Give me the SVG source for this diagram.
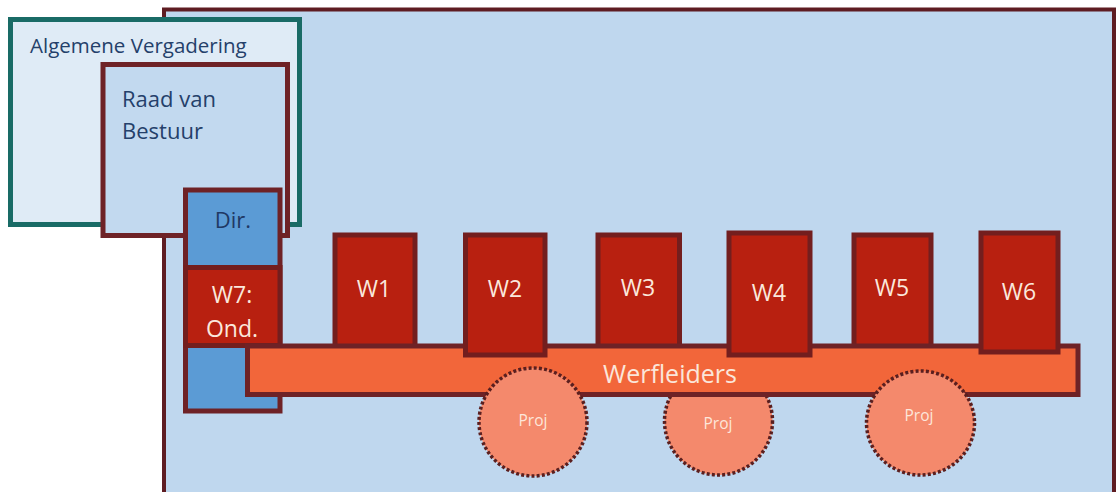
<svg xmlns="http://www.w3.org/2000/svg" width="1117" height="492" viewBox="0 0 1117 492">
<style>
.t{font-family:"Open Sans","Liberation Sans",sans-serif}
.dk{fill:#24406a}
.wb{fill:#b82010;stroke:#731e1e;stroke-width:5}
.wt{fill:#fbe8dc;font-size:23px;text-anchor:middle}
.proj{fill:#f4896c;stroke:#5a1f1f;stroke-width:3.5;stroke-dasharray:3 2.2}
.pt{fill:#fde6da;font-size:15.5px;text-anchor:middle}
</style>
<rect width="1117" height="492" fill="#ffffff"/>
<g id="organisatie">
<rect x="164" y="9.5" width="950" height="500" fill="#bfd7ee" stroke="#5e1c22" stroke-width="4"/>
</g>
<g id="algemene-vergadering">
<rect x="10.5" y="19.5" width="289" height="205" fill="#dfebf6" stroke="#196b66" stroke-width="5"/>
<text class="t dk" x="30" y="53" font-size="20.5">Algemene Vergadering</text>
</g>
<g id="raad-van-bestuur">
<rect x="103" y="64.5" width="184.5" height="171" fill="#c2d9ef" stroke="#6e2226" stroke-width="5"/>
<text class="t dk" x="122" y="107" font-size="22">Raad van</text>
<text class="t dk" x="122" y="139" font-size="22">Bestuur</text>
</g>
<g id="dir">
<rect x="185.5" y="190" width="94.5" height="221" fill="#5b9bd5" stroke="#6e2226" stroke-width="5"/>
<text class="t" x="233" y="228" font-size="22" fill="#1f3864" text-anchor="middle">Dir.</text>
</g>
<g id="w7">
<rect class="wb" x="185.5" y="267.5" width="94.5" height="78"/>
<text class="t wt" x="232" y="303">W7:</text>
<text class="t wt" x="232" y="337" font-size="22">Ond.</text>
</g>
<g id="w1">
<rect class="wb" x="335" y="235" width="80" height="112"/>
<text class="t wt" x="374" y="297">W1</text>
</g>
<g id="w3">
<rect class="wb" x="598" y="235" width="81.5" height="112"/>
<text class="t wt" x="638" y="296">W3</text>
</g>
<g id="w5">
<rect class="wb" x="854" y="235" width="77" height="112"/>
<text class="t wt" x="892" y="296">W5</text>
</g>
<g id="proj2">
<ellipse class="proj" cx="718.5" cy="421" rx="54" ry="54"/>
<text class="t pt" x="718" y="429">Proj</text>
</g>
<g id="werfleiders">
<rect x="247.5" y="346" width="830.5" height="48.5" fill="#f2663a" stroke="#6e2226" stroke-width="5"/>
<text class="t" x="670" y="383" font-size="25" fill="#fbe6da" text-anchor="middle">Werfleiders</text>
</g>
<g id="w2">
<rect class="wb" x="465.5" y="235" width="79.5" height="120"/>
<text class="t wt" x="505" y="297">W2</text>
</g>
<g id="w4">
<rect class="wb" x="729" y="233" width="81" height="122"/>
<text class="t wt" x="769" y="301">W4</text>
</g>
<g id="w6">
<rect class="wb" x="981" y="233" width="77" height="119"/>
<text class="t wt" x="1019" y="300">W6</text>
</g>
<g id="proj1">
<ellipse class="proj" cx="533" cy="422" rx="54" ry="54"/>
<text class="t pt" x="533" y="426">Proj</text>
</g>
<g id="proj3">
<ellipse class="proj" cx="920.5" cy="423" rx="54" ry="52"/>
<text class="t pt" x="919" y="421">Proj</text>
</g>
<g id="connectors"></g>
</svg>
